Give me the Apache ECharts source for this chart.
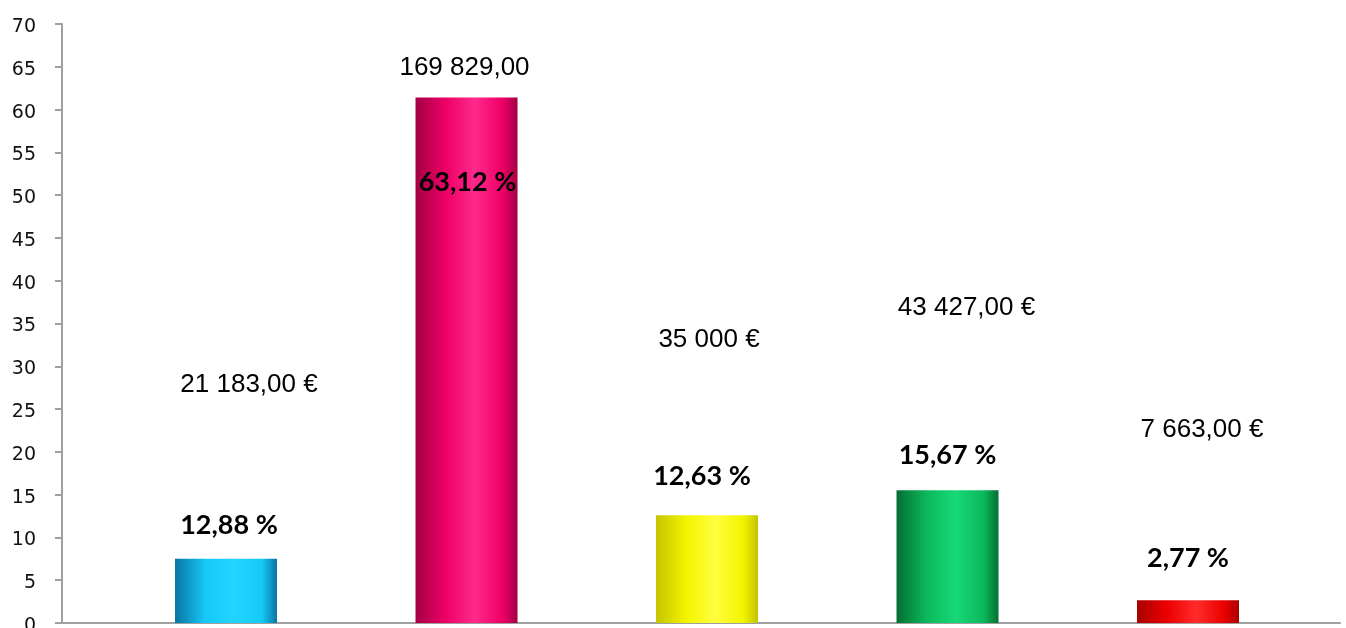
<!DOCTYPE html>
<html>
<head>
<meta charset="utf-8">
<script src="https://cdn.jsdelivr.net/npm/echarts@6/dist/echarts.min.js"></script>
<style>
  html, body { margin: 0; padding: 0; background: #fff; }
  #bar_chart { width: 1346px; height: 628px; }
</style>
</head>
<body>
<div id="bar_chart"></div>
<script>
// data
var categories = ['A', 'B', 'C', 'D', 'E'];
var barValues = [7.5, 61.4, 12.6, 15.5, 2.65];
var percentLabels = ['12,88 %', '63,12 %', '12,63 %', '15,67 %', '2,77 %'];
var amountLabels = ['21 183,00 €', '169 829,00', '35 000 €', '43 427,00 €', '7 663,00 €'];
var yTicks = [0, 70, 5]; // min, max, interval

// styling: label offsets from the top centre of each bar
var percentOffsets = [[3, -34], [1, 85], [-5, -39], [0, -35], [0, -42]];
var amountOffsets = [[23, -174], [-2, -30], [2, -175], [19, -183], [14, -170]];
var barColors = [
  ['#0a74a2', '#17c9f8', '#22d4ff'],
  ['#a30044', '#ee0066', '#ff2a8c'],
  ['#c4c400', '#f4f400', '#ffff40'],
  ['#056f33', '#0cb95b', '#18d878'],
  ['#a80000', '#ec0000', '#ff2c2c']
];

function grad(c) {
  return new echarts.graphic.LinearGradient(0, 0, 1, 0, [
    { offset: 0, color: c[0] },
    { offset: 0.3, color: c[1] },
    { offset: 0.58, color: c[2] },
    { offset: 0.85, color: c[1] },
    { offset: 1, color: c[0] }
  ]);
}

var mainData = categories.map(function (name, i) {
  return {
    name: name,
    value: [i, barValues[i]],
    itemStyle: { color: grad(barColors[i]) },
    label: {
      formatter: percentLabels[i],
      offset: percentOffsets[i]
    }
  };
});

var amountData = categories.map(function (name, i) {
  return {
    name: name,
    value: [i, barValues[i]],
    label: {
      formatter: amountLabels[i],
      offset: amountOffsets[i]
    }
  };
});

var chart = echarts.init(document.getElementById('bar_chart'));
chart.setOption({
  animation: false,
  grid: { left: 62, right: 6, top: 24, bottom: 5, containLabel: false, outerBoundsMode: 'none' },
  xAxis: {
    type: 'value',
    min: -0.682,
    max: 4.632,
    axisLine: { show: true, lineStyle: { color: '#a0a0a0', width: 2 } },
    axisTick: { show: false },
    axisLabel: { show: false },
    splitLine: { show: false }
  },
  yAxis: {
    type: 'value',
    min: yTicks[0],
    max: yTicks[1],
    interval: yTicks[2],
    axisLine: { show: true, onZero: false, lineStyle: { color: '#a0a0a0', width: 2 } },
    axisTick: { show: true, inside: false, length: 7, lineStyle: { color: '#a0a0a0', width: 2 } },
    axisLabel: {
      margin: 26,
      formatter: function (v) { return '{t|' + v + '}'; },
      rich: {
        t: {
          color: '#111',
          fontFamily: 'DejaVu Sans',
          fontSize: 19,
          padding: [6, 0, 0, 0]
        }
      }
    },
    splitLine: { show: false }
  },
  series: [
    {
      type: 'bar',
      barWidth: 102,
      barGap: '-100%',
      data: mainData,
      label: {
        show: true,
        position: ['50%', 0],
        align: 'center',
        verticalAlign: 'middle',
        color: '#000',
        fontFamily: 'Lato',
        fontWeight: 'bold',
        fontSize: 27
      },
      z: 2
    },
    {
      type: 'bar',
      barWidth: 102,
      barGap: '-100%',
      data: amountData,
      itemStyle: { color: 'rgba(0,0,0,0)' },
      label: {
        show: true,
        position: ['50%', 0],
        align: 'center',
        verticalAlign: 'middle',
        color: '#000',
        fontFamily: 'Liberation Sans',
        fontSize: 26
      },
      z: 3
    }
  ]
});
</script>
</body>
</html>
